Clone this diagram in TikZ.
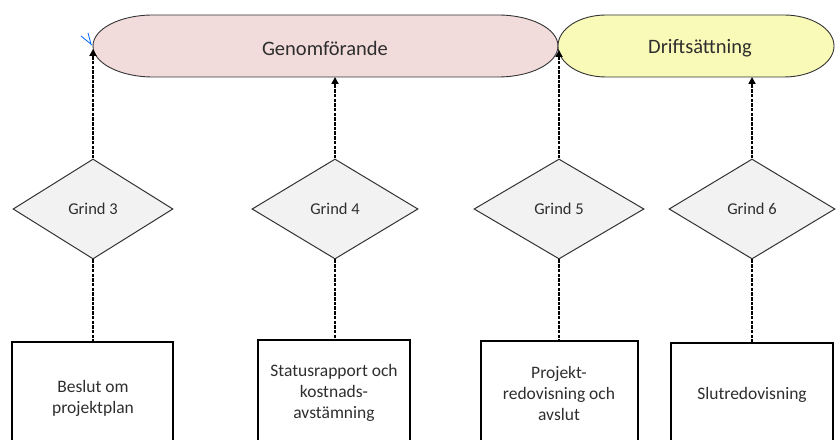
\documentclass[tikz,border=0pt]{standalone}
\usepackage{fontspec}
\setmainfont{Carlito}
\usetikzlibrary{shapes.geometric,arrows.meta}
\definecolor{pinkfill}{HTML}{F2DCDB}
\definecolor{yellowfill}{HTML}{FAFAB8}
\definecolor{diafill}{HTML}{F2F2F2}
\definecolor{txt}{HTML}{2E2E2E}
\definecolor{edge}{HTML}{333333}
\tikzset{
  phase/.style={draw=edge,line width=0.9pt},
  label/.style={text=txt,font=\fontsize{20.5}{24}\selectfont,inner sep=0pt},
  gate/.style={diamond,draw=edge,fill=diafill,line width=1pt,inner sep=0pt,
    minimum width=166pt,minimum height=100pt,text=txt,font=\fontsize{16.5}{20}\selectfont},
  docbox/.style={draw=black,line width=1.5pt},
  doctext/.style={text=txt,align=center,font=\fontsize{17.5}{21}\selectfont,inner sep=0pt},
  link/.style={black,line width=2pt,dash pattern=on 3.5pt off 1.2pt},
  uplink/.style={link,-{Triangle[length=7pt,width=7pt]}}
}
\begin{document}
\begin{tikzpicture}[x=1pt,y=1pt]
\useasboundingbox (0,0) rectangle (837,439);
\clip (0,0) rectangle (837,439);
% phases
\draw[phase,fill=pinkfill] (153,424) -- (498,424)
  arc[start angle=90,end angle=-90,x radius=60pt,y radius=31pt]
  -- (153,362) arc[start angle=270,end angle=90,x radius=60pt,y radius=31pt] -- cycle;
\draw[phase,fill=yellowfill] (606,424) -- (784,424)
  arc[start angle=90,end angle=-90,x radius=50pt,y radius=31pt]
  -- (606,362) arc[start angle=270,end angle=90,x radius=48pt,y radius=31pt] -- cycle;
\node[label] (genom) at (325,391) {Genomförande};
\node[label] (drift) at (700,391) {Driftsättning};
\coordinate (g3t) at (93,390);
\coordinate (g4t) at (335,362);
\coordinate (g5t) at (559,389);
\coordinate (g6t) at (752,362);
% blue connection mark
\draw[blue!60!cyan,line width=0.8pt] (81,403) -- (92,394) (88,406) -- (91,395);
% gates
\node[gate,minimum width=160pt] (g3) at (93,230) {Grind 3};
\node[gate] (g4) at (335,230) {Grind 4};
\node[gate,minimum width=170pt] (g5) at (559,230) {Grind 5};
\node[gate] (g6) at (752,230) {Grind 6};
% boxes
\draw[docbox] (12,-10) rectangle (173,97);
\draw[docbox] (258,-10) rectangle (410,99);
\draw[docbox] (481,-10) rectangle (638,98);
\draw[docbox] (671,-10) rectangle (833,96);
\coordinate (b1) at (93,97);
\coordinate (b2) at (335,99);
\coordinate (b3) at (559,98);
\coordinate (b4) at (752,96);
\node[doctext] (t1) at (93,41) {Beslut om\\projektplan};
\node[doctext] (t2) at (334,46) {Statusrapport och\\kostnads-\\avstämning};
\node[doctext] (t3) at (559,46) {Projekt-\\redovisning och\\avslut};
\node[doctext] (t4) at (752,44) {Slutredovisning};
% connectors
\draw[uplink] (g3.north) -- (g3t);
\draw[uplink] (g4.north) -- (g4t);
\draw[uplink] (g5.north) -- (g5t);
\draw[uplink] (g6.north) -- (g6t);
\draw[link] (g3.south) -- (b1);
\draw[link] (g4.south) -- (b2);
\draw[link] (g5.south) -- (b3);
\draw[link] (g6.south) -- (b4);
\end{tikzpicture}
\end{document}
